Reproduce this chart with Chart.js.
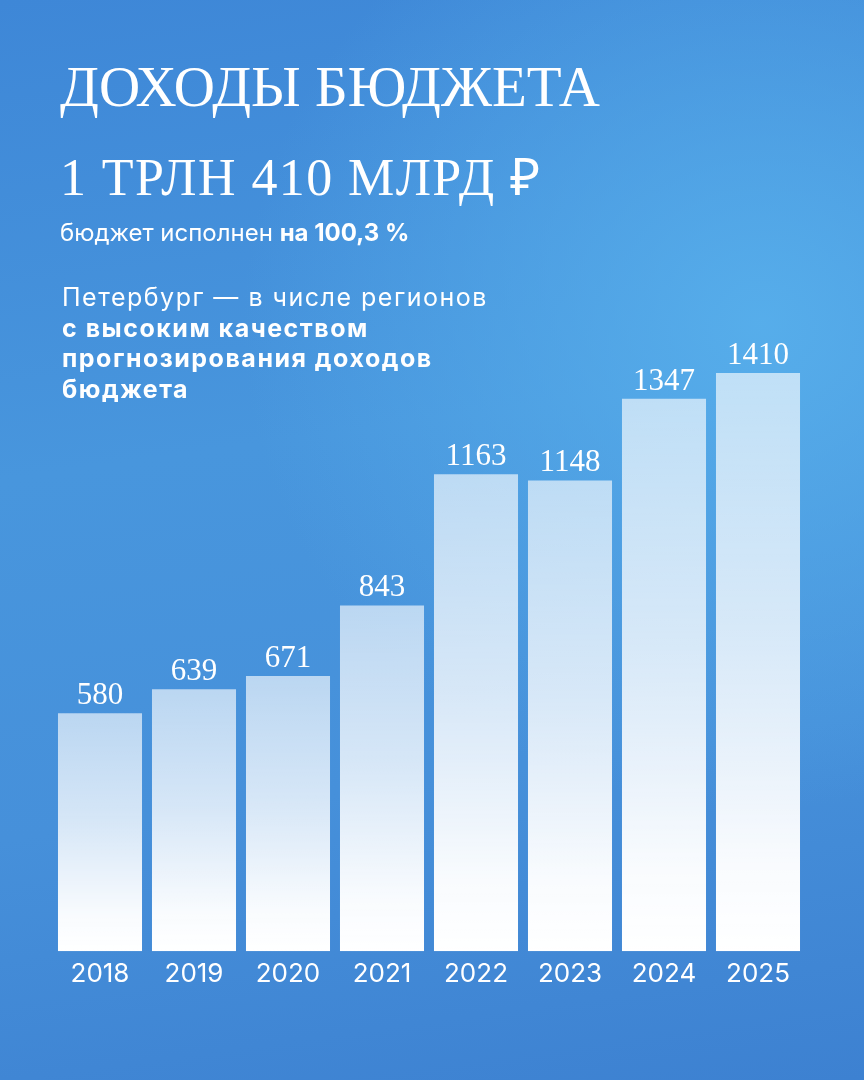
<!DOCTYPE html>
<html lang="ru">
<head>
<meta charset="utf-8">
<title>Доходы бюджета</title>
<script src="https://cdn.jsdelivr.net/npm/chart.js@4.4.1/dist/chart.umd.min.js"></script>
<style>
  html, body { margin: 0; padding: 0; }
  body {
    width: 864px; height: 1080px; overflow: hidden; position: relative;
    background:
      radial-gradient(ellipse 60% 45% at 88% 30%, rgba(88,176,236,0.9) 0%, rgba(88,176,236,0) 100%),
      linear-gradient(172deg, #3e87d7 0%, #4896dd 40%, #4690da 70%, #3d81d1 100%);
    font-family: Inter, "Noto Sans", sans-serif;
    color: #fff;
  }
  #wrap { position: absolute; left: 0; top: 0; width: 864px; height: 1080px; }
  .txt { position: absolute; left: 60px; z-index: 2; white-space: nowrap; }
  #title { top: 52px; font-family: "Liberation Serif", serif; font-size: 57px; line-height: 70px; }
  #sum { top: 146px; font-family: "Liberation Serif", serif; font-size: 52px; line-height: 64px; letter-spacing: 1.4px; }
  #done { top: 218px; font-size: 24px; line-height: 30px; }
  #note { top: 282px; left: 62px; font-size: 25px; line-height: 30.5px; letter-spacing: 1.5px; }
  b { font-weight: 700; }
</style>
</head>
<body>
<div class="txt" id="title">ДОХОДЫ БЮДЖЕТА</div>
<div class="txt" id="sum">1 ТРЛН 410 МЛРД ₽</div>
<div class="txt" id="done">бюджет исполнен <b>на 100,3 %</b></div>
<div class="txt" id="note">Петербург — в числе регионов<br><b>с высоким качеством<br>прогнозирования доходов<br>бюджета</b></div>
<div id="wrap"><canvas id="chart"></canvas></div>
<script>
const years = ['2018', '2019', '2020', '2021', '2022', '2023', '2024', '2025'];
const revenue = [580, 639, 671, 843, 1163, 1148, 1347, 1410];

function barFill(context) {
    const chart = context.chart;
    if (!chart.chartArea || context.raw === undefined) return 'rgba(255,255,255,0.8)';
    const y = chart.scales.y;
    const top = y.getPixelForValue(context.raw);
    const bottom = y.getPixelForValue(0);
    const g = chart.ctx.createLinearGradient(0, top, 0, bottom);
    g.addColorStop(0, 'rgba(255,255,255,0.63)');
    g.addColorStop(0.45, 'rgba(255,255,255,0.78)');
    g.addColorStop(0.85, 'rgba(255,255,255,0.97)');
    g.addColorStop(1, 'rgba(255,255,255,1)');
    return g;
}

const valueLabels = {
    id: 'valueLabels',
    afterDatasetsDraw(chart) {
        const ctx = chart.ctx;
        const meta = chart.getDatasetMeta(0);
        ctx.save();
        ctx.fillStyle = '#ffffff';
        ctx.font = '31px "Liberation Serif", serif';
        ctx.textAlign = 'center';
        ctx.textBaseline = 'alphabetic';
        meta.data.forEach(function (bar, i) {
            ctx.fillText(String(revenue[i]), bar.x, bar.y - 9);
        });
        ctx.restore();
    }
};

const ctx = document.getElementById('chart').getContext('2d');
const revenueChart = new Chart(ctx, {
    type: 'bar',
    data: {
        labels: years,
        datasets: [{
            label: 'Доходы бюджета',
            data: revenue,
            backgroundColor: barFill,
            borderWidth: 0,
            barPercentage: 0.894,
            categoryPercentage: 1
        }]
    },
    options: {
        responsive: true,
        maintainAspectRatio: false,
        animation: false,
        layout: { padding: { left: 53, right: 59, top: 295, bottom: 83.6 } },
        plugins: { legend: { display: false }, tooltip: { enabled: false } },
        scales: {
            x: {
                grid: { display: false, drawTicks: false },
                border: { display: false },
                ticks: {
                    color: '#ffffff',
                    padding: 7,
                    font: { family: 'Inter', size: 26 }
                }
            },
            y: {
                display: false,
                min: 0,
                max: 1600
            }
        }
    },
    plugins: [valueLabels]
});
</script>
</body>
</html>
